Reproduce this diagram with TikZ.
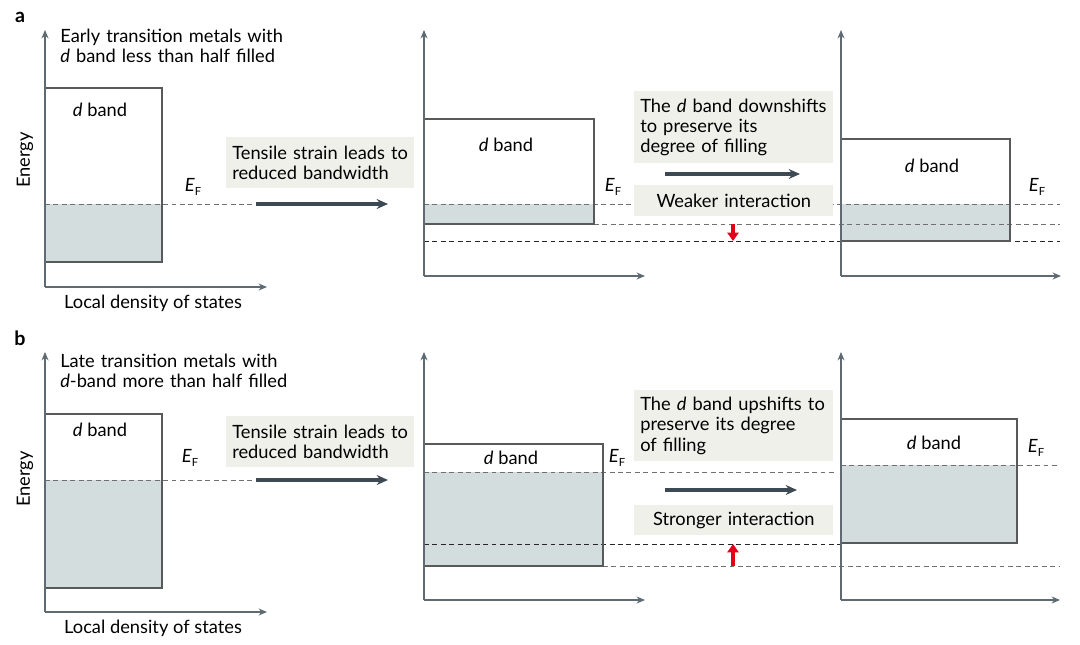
\documentclass[tikz,border=0pt]{standalone}
\usepackage{fontspec}
\setmainfont{Lato}
\usetikzlibrary{arrows.meta,positioning}

\definecolor{bandfill}{HTML}{D3DDDD}
\definecolor{notegray}{HTML}{F0F0EB}
\definecolor{axisgray}{HTML}{5F6A72}
\definecolor{darkarrow}{HTML}{3D4A53}
\definecolor{shiftred}{HTML}{E2001A}
\definecolor{edgegray}{HTML}{58595B}
\definecolor{dashgray}{HTML}{6E7073}

\hyphenpenalty=10000
\newcommand{\fermi}{\textit{E}\raisebox{-0.45ex}{\fontsize{8}{8}\selectfont F}}

\begin{document}
\begin{tikzpicture}[
                                x = 0.025cm,
                                y = -0.025cm,
                                font = \fontsize{13}{14.4}\selectfont
                                ]

                                \tikzstyle{dosaxis}=[
                                        draw = axisgray,
                                        line width = 0.75pt,
                                        -{Stealth[length=6pt, width=5pt]}
                                ]
                                \tikzstyle{bandedge}=[
                                        draw = edgegray,
                                        line width = 0.75pt
                                ]
                                \tikzstyle{eflevel}=[
                                        draw = dashgray,
                                        line width = 0.7pt,
                                        dash pattern = on 3.5pt off 2.5pt
                                ]
                                \tikzstyle{baselevel}=[
                                        eflevel,
                                        draw = black!85
                                ]
                                \tikzstyle{strainarrow}=[
                                        draw = darkarrow,
                                        line width = 2.2pt,
                                        -{Stealth[length=8pt, width=7pt]}
                                ]
                                \tikzstyle{redshift}=[
                                        draw = shiftred,
                                        line width = 2.2pt,
                                        -{Triangle[length=6pt, width=8pt]}
                                ]
                                \tikzstyle{note}=[
                                        fill = notegray,
                                        anchor = north west,
                                        inner xsep = 0.15cm,
                                        inner ysep = 0pt,
                                        text width = 4.675cm,
                                        align = left
                                ]
                                \tikzstyle{panel}=[
                                        font = \fontsize{14}{15}\selectfont\bfseries
                                ]
                                \tikzstyle{heading}=[
                                        anchor = north west,
                                        inner sep = 0pt,
                                        text width = 7cm,
                                        align = left
                                ]

                                \useasboundingbox (0,0) rectangle (1080,645);

                                % ---------- a ----------
                                \coordinate (oa1) at (45,287);
                                \coordinate (ya1) at (45,30);
                                \coordinate (xa1) at (267,287);
                                \coordinate (oa2) at (424,276);
                                \coordinate (ya2) at (424,30);
                                \coordinate (xa2) at (645,276);
                                \coordinate (oa3) at (841,276);
                                \coordinate (ya3) at (841,30);
                                \coordinate (xa3) at (1061,276);

                                \fill[bandfill] (45,204) rectangle (162,262);
                                \fill[bandfill] (424,204) rectangle (594,224);
                                \fill[bandfill] (841,204) rectangle (1010,241);

                                \coordinate (efa1) at (45,204);
                                \coordinate (efa1e) at (256,204);
                                \coordinate (efa2) at (424,204);
                                \coordinate (efa2e) at (1060,204);
                                \coordinate (mida) at (594,224);
                                \coordinate (midae) at (1060,224);
                                \coordinate (lowa) at (424,241);
                                \coordinate (lowae) at (1060,241);

                                \draw[eflevel] (efa1) -- (efa1e);
                                \draw[eflevel] (efa2) -- (efa2e);
                                \draw[eflevel] (mida) -- (midae);
                                \draw[baselevel] (lowa) -- (lowae);

                                \draw[bandedge] (45,88) rectangle (162,262);
                                \draw[bandedge] (424,119) rectangle (594,224);
                                \draw[bandedge] (841,139) rectangle (1010,241);

                                \draw[dosaxis] (oa1) -- (ya1);
                                \draw[dosaxis] (oa1) -- (xa1);
                                \draw[dosaxis] (oa2) -- (ya2);
                                \draw[dosaxis] (oa2) -- (xa2);
                                \draw[dosaxis] (oa3) -- (ya3);
                                \draw[dosaxis] (oa3) -- (xa3);

                                \node[panel] (a) at (20,17) {a};
                                \node[heading] (titlea) at (60,29) {Early transition metals with\\\textit{d} band less than half filled};
                                \node (energya) [rotate=90] at (25,160) {Energy};
                                \node (dosa) at (153,303) {Local density of states};

                                \node (banda1) at (100,110) {\textit{d} band};
                                \node (banda2) at (506,145) {\textit{d} band};
                                \node (banda3) at (932,166) {\textit{d} band};
                                \node (fermia1) at (193,187) {\fermi};
                                \node (fermia2) at (613,187) {\fermi};
                                \node (fermia3) at (1037,187) {\fermi};

                                \node[note, text width=4.4cm, minimum height=1.275cm] (straina) at (226,137) {Tensile strain leads to\\reduced bandwidth};
                                \node[note, minimum height=1.8cm] (downa) at (634,91) {The \textit{d} band downshifts\\to preserve its\\degree of filling};
                                \node[note, align=center, minimum height=0.775cm] (weak) at (634,185) {Weaker interaction};

                                \coordinate (arra1) at (388,204);
                                \coordinate (arra2) at (665,174);
                                \coordinate (arra2e) at (800,174);
                                \coordinate (reda) at (733,224);
                                \coordinate (redae) at (733,241);

                                \draw[strainarrow] (efa1e) -- (arra1);
                                \draw[strainarrow] (arra2) -- (arra2e);
                                \draw[redshift] (reda) -- (redae);

                                % ---------- b ----------
                                \coordinate (ob1) at (45,612);
                                \coordinate (yb1) at (45,352);
                                \coordinate (xb1) at (267,612);
                                \coordinate (ob2) at (424,600);
                                \coordinate (yb2) at (424,352);
                                \coordinate (xb2) at (645,600);
                                \coordinate (ob3) at (841,600);
                                \coordinate (yb3) at (841,352);
                                \coordinate (xb3) at (1060,600);

                                \fill[bandfill] (45,480) rectangle (162,588);
                                \fill[bandfill] (424,472) rectangle (603,566);
                                \fill[bandfill] (841,465) rectangle (1017,543);

                                \coordinate (efb1) at (45,480);
                                \coordinate (efb1e) at (256,480);
                                \coordinate (efb2) at (424,472);
                                \coordinate (efb2e) at (836,472);
                                \coordinate (efb3) at (841,465);
                                \coordinate (efb3e) at (1060,465);
                                \coordinate (midb) at (424,544);
                                \coordinate (midbe) at (841,544);
                                \coordinate (lowb) at (603,566);
                                \coordinate (lowbe) at (1060,566);

                                \draw[eflevel] (efb1) -- (efb1e);
                                \draw[eflevel] (efb2) -- (efb2e);
                                \draw[eflevel] (efb3) -- (efb3e);
                                \draw[baselevel] (midb) -- (midbe);
                                \draw[eflevel] (lowb) -- (lowbe);

                                \draw[bandedge] (45,414) rectangle (162,588);
                                \draw[bandedge] (424,444) rectangle (603,566);
                                \draw[bandedge] (841,419) rectangle (1017,543);

                                \draw[dosaxis] (ob1) -- (yb1);
                                \draw[dosaxis] (ob1) -- (xb1);
                                \draw[dosaxis] (ob2) -- (yb2);
                                \draw[dosaxis] (ob2) -- (xb2);
                                \draw[dosaxis] (ob3) -- (yb3);
                                \draw[dosaxis] (ob3) -- (xb3);

                                \node[panel] (b) at (20,338) {b};
                                \node[heading] (titleb) at (60,354) {Late transition metals with\\\textit{d}-band more than half filled};
                                \node (energyb) [rotate=90] at (25,479) {Energy};
                                \node (dosb) at (153,628) {Local density of states};

                                \node (bandb1) at (100,430) {\textit{d} band};
                                \node (bandb2) at (511,458) {\textit{d} band};
                                \node (bandb3) at (934,443) {\textit{d} band};
                                \node (fermib1) at (190,458) {\fermi};
                                \node (fermib2) at (617,458) {\fermi};
                                \node (fermib3) at (1036,448) {\fermi};

                                \node[note, text width=4.4cm, minimum height=1.275cm] (strainb) at (226,416) {Tensile strain leads to\\reduced bandwidth};
                                \node[note, minimum height=1.775cm] (upb) at (634,390) {The \textit{d} band upshifts to\\preserve its degree\\of filling};
                                \node[note, align=center, minimum height=0.75cm] (strong) at (634,505) {Stronger interaction};

                                \coordinate (arrb1) at (388,480);
                                \coordinate (arrb2) at (665,490);
                                \coordinate (arrb2e) at (797,490);
                                \coordinate (redb) at (733,566);
                                \coordinate (redbe) at (733,544);

                                \draw[strainarrow] (efb1e) -- (arrb1);
                                \draw[strainarrow] (arrb2) -- (arrb2e);
                                \draw[redshift] (redb) -- (redbe);
\end{tikzpicture}
\end{document}
